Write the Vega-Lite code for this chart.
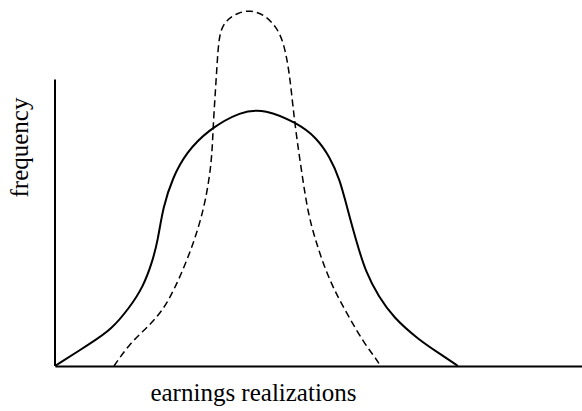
{
  "$schema": "https://vega.github.io/schema/vega-lite/v6.json",
  "autosize": "none",
  "width": 527,
  "height": 358,
  "padding": {"left": 55, "top": 8, "right": 0, "bottom": 45},
  "background": "white",
  "config": {"view": {"stroke": null}, "font": "Liberation Serif"},
  "datasets": {
    "curves": [
      {"curve": "wide", "x": 0, "y": 0},
      {"curve": "wide", "x": 6.86, "y": 6.42},
      {"curve": "wide", "x": 10.67, "y": 10.06},
      {"curve": "wide", "x": 14.29, "y": 16.48},
      {"curve": "wide", "x": 16.76, "y": 22.07},
      {"curve": "wide", "x": 18.48, "y": 28.77},
      {"curve": "wide", "x": 19.62, "y": 35.2},
      {"curve": "wide", "x": 20.57, "y": 44.41},
      {"curve": "wide", "x": 22.48, "y": 52.79},
      {"curve": "wide", "x": 24.95, "y": 59.5},
      {"curve": "wide", "x": 29.14, "y": 65.92},
      {"curve": "wide", "x": 35.43, "y": 71.23},
      {"curve": "wide", "x": 40.0, "y": 71.79},
      {"curve": "wide", "x": 46.1, "y": 67.88},
      {"curve": "wide", "x": 49.71, "y": 63.97},
      {"curve": "wide", "x": 52.38, "y": 58.38},
      {"curve": "wide", "x": 54.29, "y": 51.96},
      {"curve": "wide", "x": 55.62, "y": 44.41},
      {"curve": "wide", "x": 57.33, "y": 35.2},
      {"curve": "wide", "x": 59.24, "y": 25.98},
      {"curve": "wide", "x": 61.71, "y": 19.27},
      {"curve": "wide", "x": 64.38, "y": 13.69},
      {"curve": "wide", "x": 69.33, "y": 7.26},
      {"curve": "wide", "x": 73.71, "y": 3.07},
      {"curve": "wide", "x": 76.76, "y": 0},
      {"curve": "narrow", "x": 11.24, "y": 0},
      {"curve": "narrow", "x": 14.29, "y": 6.42},
      {"curve": "narrow", "x": 17.71, "y": 10.89},
      {"curve": "narrow", "x": 20.57, "y": 15.64},
      {"curve": "narrow", "x": 22.67, "y": 21.23},
      {"curve": "narrow", "x": 24.95, "y": 28.77},
      {"curve": "narrow", "x": 27.05, "y": 37.15},
      {"curve": "narrow", "x": 28.76, "y": 46.37},
      {"curve": "narrow", "x": 29.9, "y": 57.54},
      {"curve": "narrow", "x": 30.1, "y": 66.76},
      {"curve": "narrow", "x": 30.86, "y": 83.52},
      {"curve": "narrow", "x": 31.24, "y": 93.02},
      {"curve": "narrow", "x": 32.57, "y": 96.65},
      {"curve": "narrow", "x": 34.86, "y": 98.69},
      {"curve": "narrow", "x": 37.24, "y": 99.44},
      {"curve": "narrow", "x": 40.0, "y": 98.04},
      {"curve": "narrow", "x": 42.19, "y": 94.69},
      {"curve": "narrow", "x": 43.62, "y": 90.22},
      {"curve": "narrow", "x": 44.67, "y": 81.84},
      {"curve": "narrow", "x": 45.33, "y": 72.35},
      {"curve": "narrow", "x": 46.1, "y": 63.13},
      {"curve": "narrow", "x": 47.14, "y": 52.79},
      {"curve": "narrow", "x": 48.19, "y": 42.74},
      {"curve": "narrow", "x": 49.62, "y": 35.2},
      {"curve": "narrow", "x": 51.05, "y": 28.77},
      {"curve": "narrow", "x": 53.14, "y": 21.23},
      {"curve": "narrow", "x": 56.0, "y": 13.69},
      {"curve": "narrow", "x": 58.86, "y": 6.42},
      {"curve": "narrow", "x": 61.64, "y": 1.12},
      {"curve": "narrow", "x": 61.9, "y": 0}
    ],
    "yaxis": [{"x": 0, "y": 0, "y2": 80}]
  },
  "layer": [
    {
      "data": {"name": "yaxis"},
      "mark": {"type": "rule", "color": "black", "strokeWidth": 2},
      "encoding": {
        "x": {"field": "x", "type": "quantitative", "scale": {"domain": [0, 100.4], "nice": false, "zero": false},
          "axis": {"title": "earnings realizations", "domain": true, "domainColor": "black", "domainWidth": 2, "ticks": false, "labels": false, "grid": false,
            "titleFont": "Liberation Serif", "titleFontWeight": "normal", "titleFontSize": 25, "titleColor": "black",
            "titleX": 198, "titleY": 34, "titleAlign": "center", "titleBaseline": "alphabetic"}},
        "y": {"field": "y", "type": "quantitative", "scale": {"domain": [0, 100], "nice": false},
          "axis": {"title": "frequency", "domain": false, "ticks": false, "labels": false, "grid": false,
            "titleFont": "Liberation Serif", "titleFontWeight": "normal", "titleFontSize": 25, "titleColor": "black",
            "titleX": -28, "titleY": 139, "titleAngle": -90, "titleAlign": "center", "titleBaseline": "alphabetic"}},
        "y2": {"field": "y2"}
      }
    },
    {
      "data": {"name": "curves"},
      "transform": [{"filter": "datum.curve === 'wide'"}],
      "mark": {"type": "line", "color": "black", "strokeWidth": 2, "interpolate": "basis"},
      "encoding": {
        "x": {"field": "x", "type": "quantitative"},
        "y": {"field": "y", "type": "quantitative"}
      }
    },
    {
      "data": {"name": "curves"},
      "transform": [{"filter": "datum.curve === 'narrow'"}],
      "mark": {"type": "line", "color": "black", "strokeWidth": 1.5, "strokeDash": [7, 4], "interpolate": "basis"},
      "encoding": {
        "x": {"field": "x", "type": "quantitative"},
        "y": {"field": "y", "type": "quantitative"}
      }
    }
  ]
}
